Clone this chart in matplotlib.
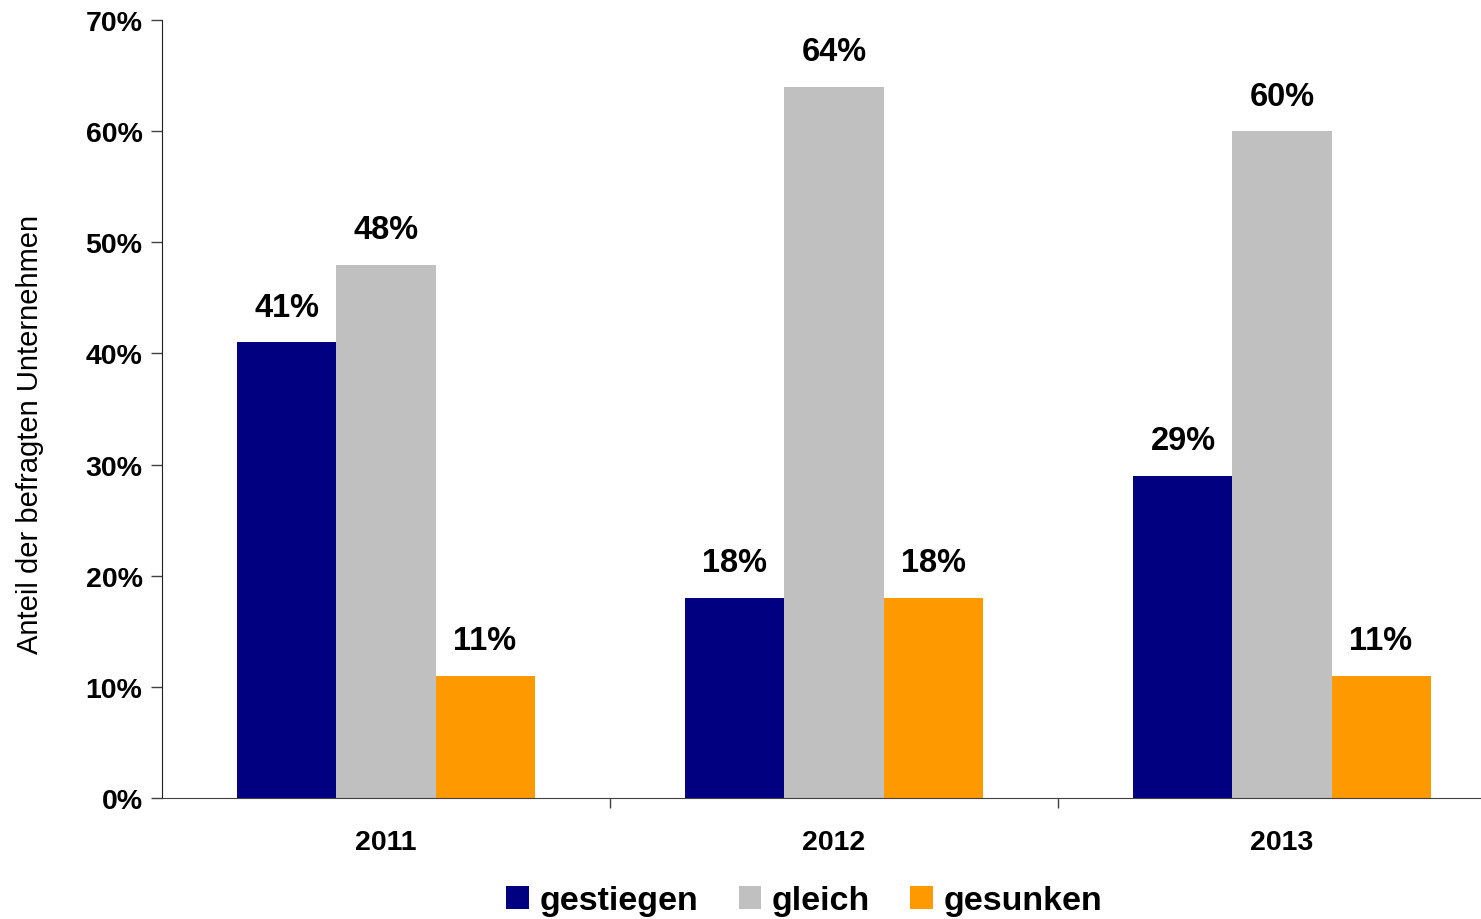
import numpy as np
import matplotlib.pyplot as plt
from matplotlib.ticker import FixedLocator

plt.rcParams['font.family'] = ['Liberation Sans', 'DejaVu Sans']

years = ['2011', '2012', '2013']
series = ['gestiegen', 'gleich', 'gesunken']
gestiegen = [41, 18, 29]
gleich = [48, 64, 60]
gesunken = [11, 18, 11]
colors = ['#000080', '#C0C0C0', '#FF9900']

fig = plt.figure(figsize=(14.81, 9.2), dpi=100)
ax = fig.add_axes([162 / 1481, 1 - 799 / 920, (1506 - 162) / 1481, (799 - 21) / 920])

x = np.arange(len(years))
width = 0.221
for i, (name, vals) in enumerate(zip(series, [gestiegen, gleich, gesunken])):
    pos = x + (i - 1) * width
    ax.bar(pos, vals, width, color=colors[i], label=name, zorder=2)
    for px, v in zip(pos, vals):
        ax.annotate(f'{v}%', (px, v), xytext=(0, 14), textcoords='offset points',
                    ha='center', va='bottom', fontsize=23.5, fontweight='bold')

ax.set_xlim(-0.5, 2.5)
ax.set_ylim(0, 70)
ax.set_yticks(np.arange(0, 71, 10))
ax.set_yticklabels([f'{t}%' for t in range(0, 71, 10)], fontsize=20.5, fontweight='bold')
ax.set_xticks(x)
ax.set_xticklabels(years, fontsize=20.5, fontweight='bold')
ax.tick_params(axis='x', which='major', length=0, pad=22)
ax.xaxis.set_minor_locator(FixedLocator([0.5, 1.5]))
ax.tick_params(axis='x', which='minor', length=7, width=1, color='#404040')
ax.tick_params(axis='y', length=8, width=1, color='#404040', pad=6)

for s in ['top', 'right']:
    ax.spines[s].set_visible(False)
ax.spines['left'].set_color('#202020')
ax.spines['bottom'].set_color('#404040')

ax.set_ylabel('Anteil der befragten Unternehmen', fontsize=21)
ax.yaxis.set_label_coords(-0.088, 0.468)

fig.legend(loc='center', bbox_to_anchor=(0.543, 1 - 902 / 920), ncol=3, frameon=False,
           prop={'size': 24.5, 'weight': 'bold'}, handlelength=0.66, handleheight=0.66,
           handletextpad=0.3, columnspacing=1.2)

fig.savefig('out.png', dpi=100)
